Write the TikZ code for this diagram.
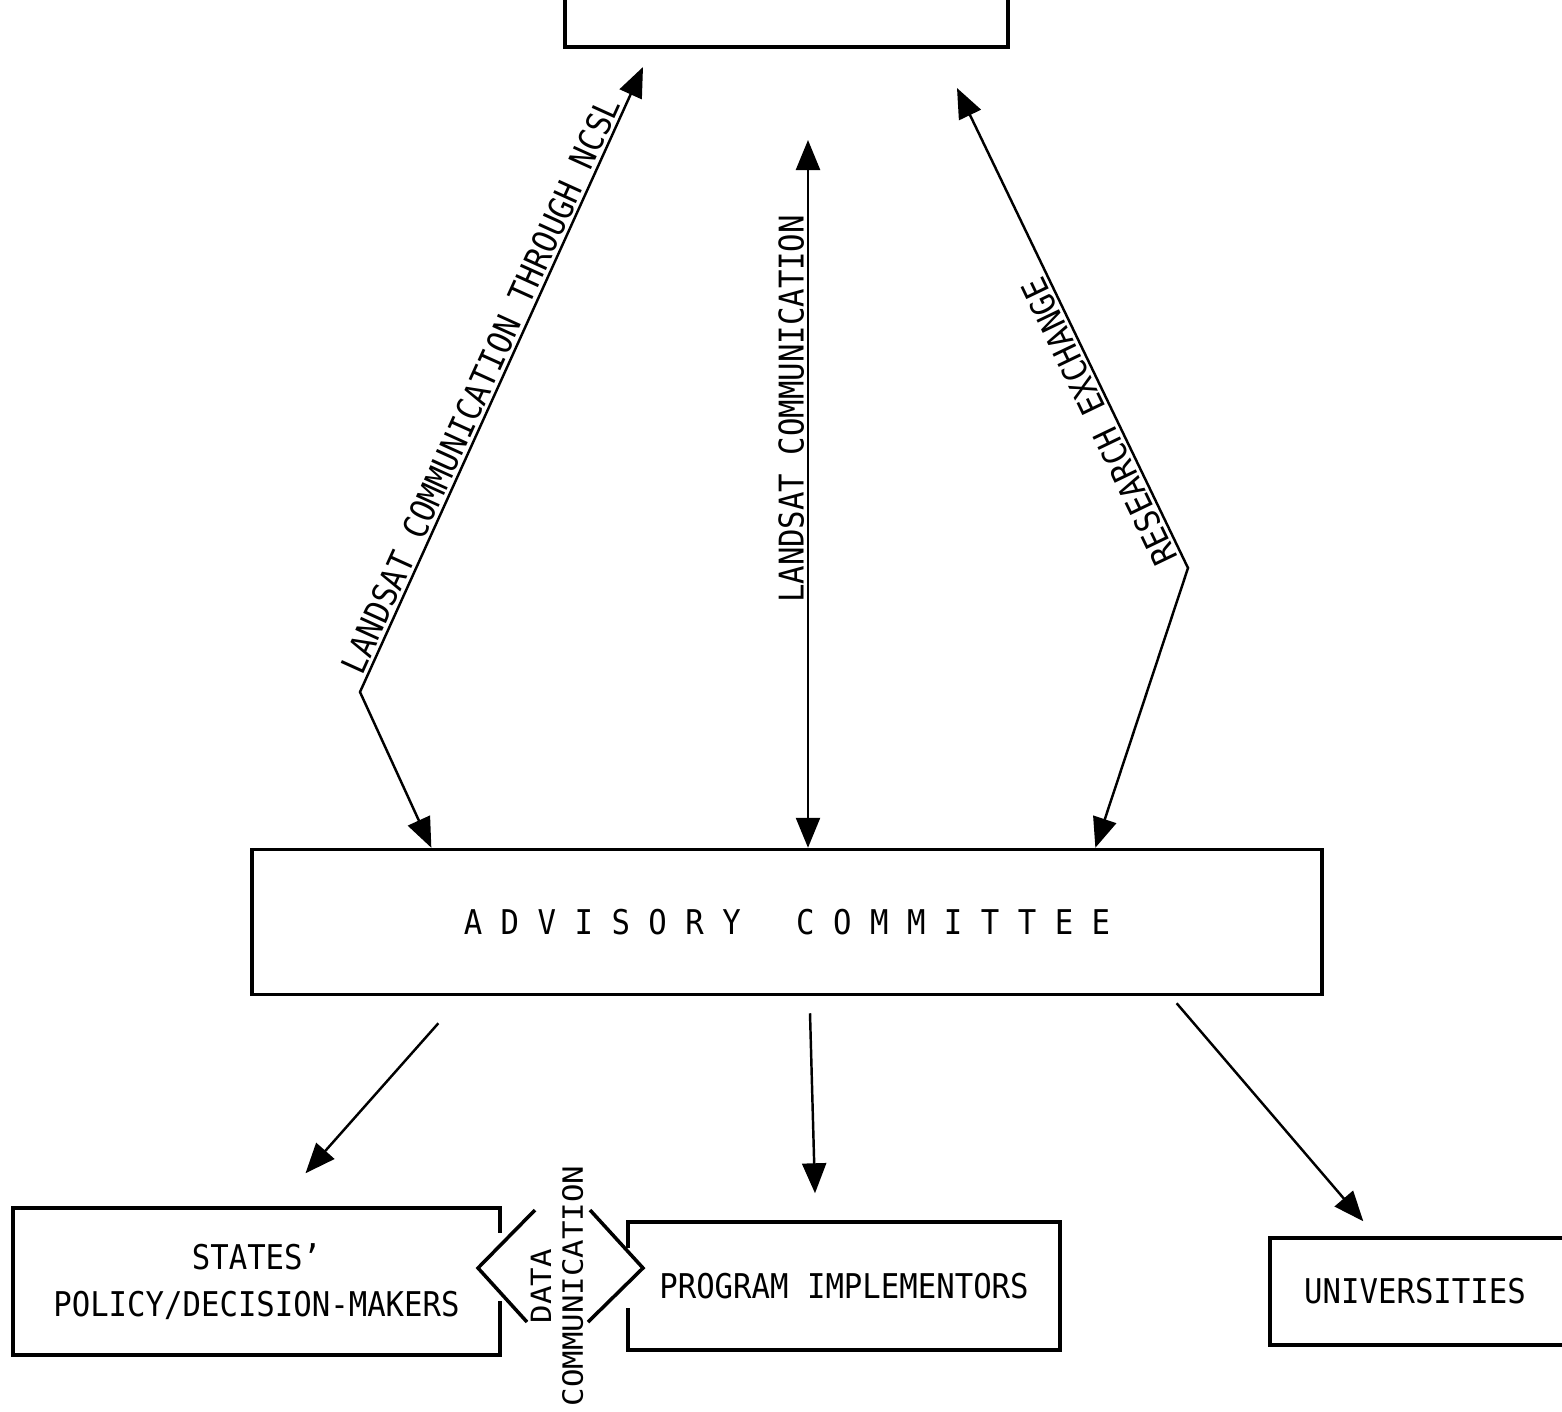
\documentclass[tikz,border=0pt]{standalone}
\usepackage{fontspec}
\newfontfamily\typefont[FakeStretch=0.9]{DejaVu Sans Mono}
\newfontfamily\widefont[FakeStretch=1.1]{DejaVu Sans Mono}
\newcommand\boxfont{\typefont\fontsize{19.4pt}{26.7pt}\selectfont}
\newcommand\linkfont{\widefont\fontsize{15.9pt}{18.2pt}\selectfont}
\usetikzlibrary{arrows.meta,calc}
\tikzset{
  box/.style      = {draw, line width=2pt, align=center, inner sep=0pt, font=\boxfont},
  lbl/.style      = {font=\boxfont, inner sep=1.5pt, sloped, above},
  arrow/.style    = {-{Triangle[length=0.6cm, width=0.48cm]}, line width=1.4pt},
  dblarrow/.style = {{Triangle[length=0.6cm, width=0.48cm]}-{Triangle[length=0.6cm, width=0.48cm]}, line width=1.4pt},
  chev/.style     = {line width=2pt},
  gapcut/.style   = {draw=white, line width=4pt},
}

\begin{document}
\begin{tikzpicture}[x=0.02cm, y=-0.02cm]
  \useasboundingbox (0,0) rectangle (1562,1411);

  \node[box, minimum width=8.86cm, minimum height=1.8cm]  (top)    at (786.5,2)     {};
  \node[box, minimum width=21.4cm, minimum height=2.9cm]  (adv)    at (787,922)     {A D V I S O R Y \ \ C O M M I T T E E};
  \node[box, minimum width=9.74cm, minimum height=2.94cm] (states) at (256.5,1281.5) {STATES’\\POLICY/DECISION-MAKERS\hspace{0.3cm}};
  \node[box, minimum width=8.64cm, minimum height=2.56cm] (prog)   at (844,1286)    {PROGRAM IMPLEMENTORS};
  \node[box, minimum width=6.2cm,  minimum height=2.14cm] (univ)   at (1425,1291.5) {UNIVERSITIES\hspace{0.4cm}};

  \coordinate (ltip)  at (643,67);
  \coordinate (lbend) at (360,692);
  \coordinate (mtip)  at (808,140);
  \coordinate (rtip)  at (957,88);
  \coordinate (rbend) at (1188,568);

  \draw[dblarrow] ($(adv.north west)+(181,0)$) -- (lbend)
    -- node[lbl, pos=0.48] {LANDSAT COMMUNICATION THROUGH NCSL} (ltip);
  \draw[dblarrow] ($(adv.north)+(21,0)$)
    -- node[lbl, pos=0.62] {LANDSAT COMMUNICATION} (mtip);
  \draw[dblarrow, allow upside down] ($(adv.north west)+(845,0)$) -- (rbend)
    -- node[lbl, pos=0.32] {RESEARCH EXCHANGE} (rtip);

  \draw[arrow] ($(adv.south west)+(188,27)$) -- ($(states.north)+(49,-33)$);
  \draw[arrow] ($(adv.south)+(23,17)$) -- ($(prog.north)+(-29,-27)$);
  \draw[arrow] ($(adv.south east)+(-147,7)$) -- ($(univ.north west)+(95,-15)$);

  % data link between the two lower boxes
  \draw[gapcut] ($(states.north east)+(0,27)$) -- ($(states.north east)+(0,95)$);
  \draw[gapcut] ($(prog.north west)+(0,28)$) -- ($(prog.north west)+(0,88)$);
  \draw[chev] (535,1210) -- (478,1268) -- (527,1322);
  \draw[chev] (590,1210) -- (643,1268) -- (588,1322);
  \node[align=center, inner sep=0pt, rotate=90, font=\linkfont] (dc) at (557,1286)
    {DATA\\COMMUNICATION};
\end{tikzpicture}
\end{document}
